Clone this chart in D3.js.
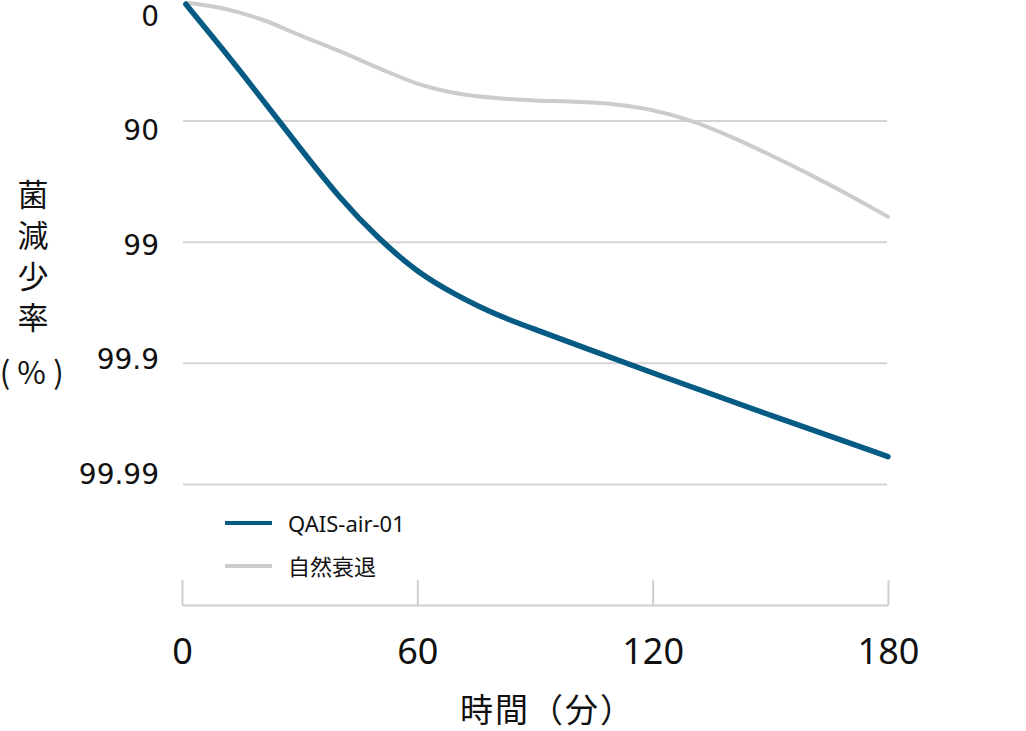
<!DOCTYPE html>
<html><head><meta charset="utf-8">
<script src="https://cdn.jsdelivr.net/npm/d3@7"></script>
<style>
html,body{margin:0;padding:0;background:#fff;}
svg{display:block;}
</style>
</head><body>
<svg id="chart" width="1026" height="731"></svg>
<script>
// ---- data ----
const minutes = [1, 10, 20, 30, 40, 50, 60, 70, 80, 90, 100, 120, 150, 180];
// log reduction (0 = 0%, 1 = 90%, 2 = 99%, 3 = 99.9%, 4 = 99.99%)
const qaisLog = [0.035, 0.39, 0.80, 1.22, 1.63, 1.97, 2.25, 2.44, 2.60, 2.72, 2.84, 3.08, 3.43, 3.77];
const natMinutes = [1, 10, 20, 30, 40, 50, 60, 70, 80, 90, 100, 110, 120, 130, 140, 150, 160, 170, 180];
const naturalLog = [0.022, 0.066, 0.157, 0.29, 0.42, 0.56, 0.69, 0.77, 0.81, 0.83, 0.84, 0.86, 0.91, 1.00, 1.13, 1.28, 1.44, 1.61, 1.79];
const xTicks = [0, 60, 120, 180];
const yTicks = [0, 1, 2, 3, 4];
const yTickLabels = ["0", "90", "99", "99.9", "99.99"];
const seriesNames = ["QAIS-air-01", "自然衰退"];
const seriesColors = ["#065b84", "#cccccc"];
const yTitleChars = ["菌", "減", "少", "率"];
const yUnitChars = ["(", "%", ")"];
const xTitle = "時間（分）";

const svg = d3.select("#chart");
const x = d3.scaleLinear().domain([0, 180]).range([182, 888]);
const y = d3.scaleLinear().domain([0, 4]).range([0, 484.4]);
const yLab = d3.scaleLinear().domain([0, 4]).range([16.5, 474]);

// gridlines
svg.append("g").selectAll("line").data(yTicks.filter(d => d > 0)).join("line")
  .attr("x1", 183).attr("x2", 887)
  .attr("y1", d => y(d)).attr("y2", d => y(d))
  .attr("stroke", "#d4d4d4").attr("stroke-width", 2);

// y labels
svg.append("g").selectAll("text").data(yTicks).join("text")
  .attr("x", 159).attr("y", d => yLab(d))
  .attr("text-anchor", "end").attr("dominant-baseline", "central")
  .attr("font-family", "'DejaVu Sans', sans-serif").attr("font-size", 28)
  .attr("fill", "#111")
  .text((d, i) => yTickLabels[i]);

// x axis
const xAxis = d3.axisBottom(x).tickValues(xTicks).tickSize(-25).tickSizeOuter(0).tickPadding(33);
const gx = svg.append("g").attr("transform", "translate(0,605)").call(xAxis);
gx.select(".domain").attr("stroke", "#cfcfcf").attr("stroke-width", 2);
gx.selectAll(".tick line").attr("stroke", "#cfcfcf").attr("stroke-width", 2);
gx.selectAll(".tick text").attr("font-family", "'Noto Sans', sans-serif").attr("font-size", 36).attr("fill", "#111");

// lines
const lineSmooth = d3.line().x(d => x(d[0])).y(d => y(d[1])).curve(d3.curveBasis);
const lineCR = d3.line().x(d => x(d[0])).y(d => y(d[1])).curve(d3.curveCatmullRom.alpha(0.5));
svg.append("path").datum(natMinutes.map((m, i) => [m, naturalLog[i]]))
  .attr("d", lineCR).attr("fill", "none").attr("stroke", seriesColors[1])
  .attr("stroke-width", 4).attr("stroke-linecap", "round");
svg.append("path").datum(minutes.map((m, i) => [m, qaisLog[i]]))
  .attr("d", lineSmooth).attr("fill", "none").attr("stroke", seriesColors[0])
  .attr("stroke-width", 5.5).attr("stroke-linecap", "round").attr("stroke-linejoin", "round");

// legend
const lg = svg.append("g");
seriesNames.forEach((name, i) => {
  const ly = 523 + i * 43;
  lg.append("line").attr("x1", 225).attr("x2", 272).attr("y1", ly).attr("y2", ly)
    .attr("stroke", seriesColors[i]).attr("stroke-width", 4);
  lg.append("text").attr("x", 288).attr("y", ly).attr("dominant-baseline", "central")
    .attr("font-family", "'Noto Sans', 'Noto Sans CJK JP', sans-serif").attr("font-size", 22)
    .attr("fill", "#111").text(name);
});

// y title
const yt = svg.append("g").attr("font-family", "'Noto Sans CJK JP', sans-serif").attr("font-size", 31).attr("fill", "#111");
yTitleChars.forEach((c, i) => {
  yt.append("text").attr("x", 33).attr("y", 192 + i * 41).attr("text-anchor", "middle")
    .attr("dominant-baseline", "central").text(c);
});
[5, 31.5, 58.5].forEach((cx, i) => {
  yt.append("text").attr("x", cx).attr("y", 370).attr("text-anchor", "middle")
    .attr("dominant-baseline", "central").text(yUnitChars[i]);
});

// x title
svg.append("text").attr("x", 460).attr("y", 708).attr("text-anchor", "start")
  .attr("dominant-baseline", "central").attr("letter-spacing", 2)
  .attr("font-family", "'Noto Sans CJK JP', sans-serif").attr("font-size", 33)
  .attr("fill", "#111").text(xTitle);
</script>
</body></html>
